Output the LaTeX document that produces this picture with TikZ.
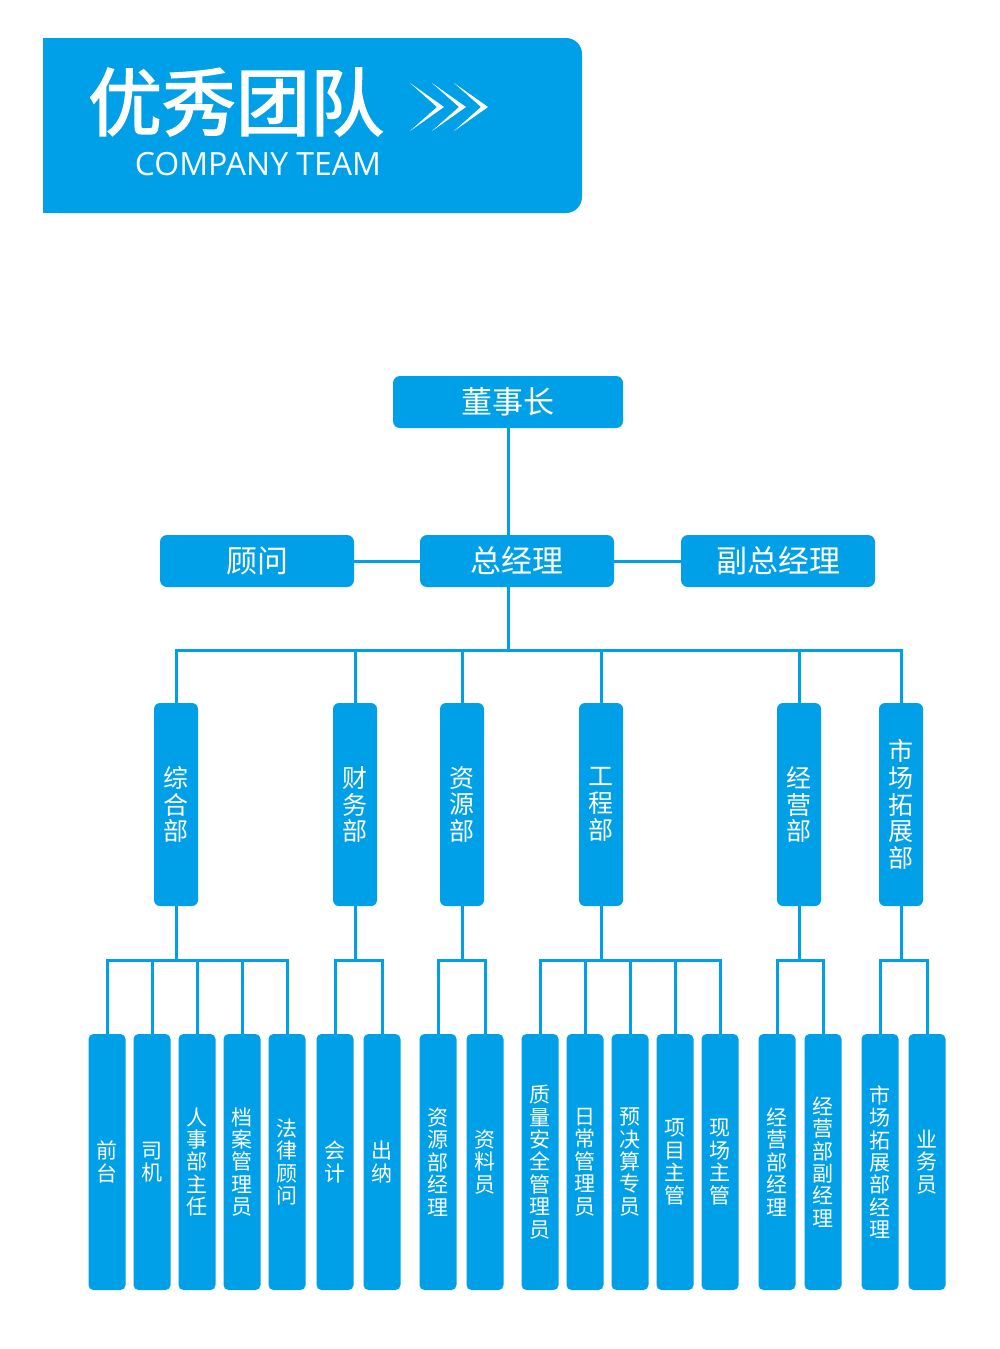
\documentclass[tikz,border=0pt]{standalone}
\usepackage{fontspec}
\setmainfont{Open Sans}
\newfontfamily\cjk{Noto Sans CJK SC}
\newfontfamily\cjkt{Noto Sans CJK SC}[FakeBold=2]
\definecolor{tb}{RGB}{0,160,233}
\tikzset{
 conn/.style={draw=tb, line width=3},
 topbox/.style={fill=tb, rounded corners=7, minimum width=194, minimum height=52, text=white, font=\cjk\fontsize{31}{31}\selectfont, inner sep=0},
 dept/.style={fill=tb, rounded corners=6, minimum width=44, minimum height=203, text=white, font=\cjk\fontsize{25}{26.8}\selectfont, align=center, inner sep=0},
 leaf/.style={fill=tb, rounded corners=5, minimum width=37, minimum height=256, text=white, font=\cjk\fontsize{21}{22.4}\selectfont, align=center, inner sep=0},
 chev/.style={fill=white},
}
\begin{document}
\begin{tikzpicture}[x=1pt,y=-1pt]
\useasboundingbox (0,0) rectangle (1000,1349);
\fill[white] (0,0) rectangle (1000,1349);
% header
\fill[tb, rounded corners=16] (43,38) rectangle (582,213);
\fill[tb] (43,38) rectangle (120,213);
\node[text=white, font=\cjkt\fontsize{74}{74}\selectfont, inner sep=0] (title) at (236,102) {优秀团队};
\foreach \dx in {0,22,44}{
 \fill[chev] (410+\dx,83) -- (444+\dx,107) -- (410+\dx,131) -- (437+\dx,107) -- cycle;
}
\node[text=white, font=\fontsize{32}{32}\selectfont, inner sep=0, anchor=base] (ct) at (258,175) {COMPANY TEAM};
% top
\node[topbox, minimum width=230] (dsz) at (508,402) {董事长};
\node[topbox] (gw) at (257,561) {顾问};
\node[topbox] (zjl) at (517,561) {总经理};
\node[topbox] (fz) at (778,561) {副总经理};
% departments
\node[dept] (d1) at (176,804.5) {综\\合\\部};
\node[dept] (d2) at (355,804.5) {财\\务\\部};
\node[dept] (d3) at (462,804.5) {资\\源\\部};
\node[dept] (d4) at (601,804.5) {工\\程\\部};
\node[dept] (d5) at (799,804.5) {经\\营\\部};
\node[dept] (d6) at (901,804.5) {市\\场\\拓\\展\\部};
% leaves
\node[leaf] (l1) at (107,1162) {前\\台};
\node[leaf] (l2) at (152,1162) {司\\机};
\node[leaf] (l3) at (197,1162) {人\\事\\部\\主\\任};
\node[leaf] (l4) at (242,1162) {档\\案\\管\\理\\员};
\node[leaf] (l5) at (287,1162) {法\\律\\顾\\问};
\node[leaf] (l6) at (335,1162) {会\\计};
\node[leaf] (l7) at (382,1162) {出\\纳};
\node[leaf] (l8) at (438,1162) {资\\源\\部\\经\\理};
\node[leaf] (l9) at (485,1162) {资\\料\\员};
\node[leaf] (l10) at (540,1162) {质\\量\\安\\全\\管\\理\\员};
\node[leaf] (l11) at (585,1162) {日\\常\\管\\理\\员};
\node[leaf] (l12) at (630,1162) {预\\决\\算\\专\\员};
\node[leaf] (l13) at (675,1162) {项\\目\\主\\管};
\node[leaf] (l14) at (720,1162) {现\\场\\主\\管};
\node[leaf] (l15) at (777,1162) {经\\营\\部\\经\\理};
\node[leaf] (l16) at (823,1162) {经\\营\\部\\副\\经\\理};
\node[leaf] (l17) at (880,1162) {市\\场\\拓\\展\\部\\经\\理};
\node[leaf] (l18) at (927,1162) {业\\务\\员};
% connectors
\coordinate (bus) at (508,650);
\coordinate (sub) at (508,960);
\draw[conn] (dsz.south) -- (dsz.south |- zjl.north);
\draw[conn] (gw.east) -- (zjl.west);
\draw[conn] (zjl.east) -- (fz.west);
\draw[conn] (dsz.south |- zjl.south) -- (bus);
\draw[conn] (d1.north) |- (bus) -| (d6.north);
\foreach \d in {d2,d3,d4,d5}{ \draw[conn] (\d.north) -- (\d.north |- bus); }
% groups
\draw[conn] (d1.south) -- (d1.south |- sub);
\draw[conn] (l1.north) |- (sub -| d1) -| (l5.north);
\foreach \l in {l2,l3,l4}{ \draw[conn] (\l.north) -- (\l.north |- sub); }
\draw[conn] (d2.south) -- (d2.south |- sub);
\draw[conn] (l6.north) |- (sub -| d2) -| (l7.north);
\draw[conn] (d3.south) -- (d3.south |- sub);
\draw[conn] (l8.north) |- (sub -| d3) -| (l9.north);
\draw[conn] (d4.south) -- (d4.south |- sub);
\draw[conn] (l10.north) |- (sub -| d4) -| (l14.north);
\foreach \l in {l11,l12,l13}{ \draw[conn] (\l.north) -- (\l.north |- sub); }
\draw[conn] (d5.south) -- (d5.south |- sub);
\draw[conn] (l15.north) |- (sub -| d5) -| (l16.north);
\draw[conn] (d6.south) -- (d6.south |- sub);
\draw[conn] (l17.north) |- (sub -| d6) -| (l18.north);
\end{tikzpicture}
\end{document}
